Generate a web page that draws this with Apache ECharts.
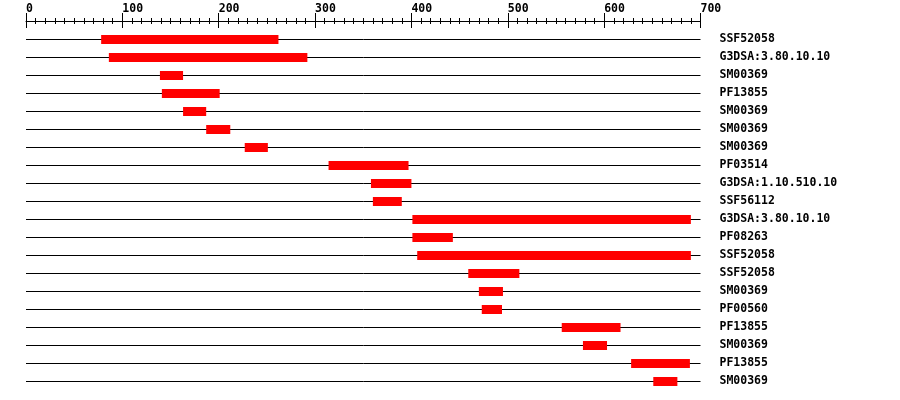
<!DOCTYPE html>
<html>
<head>
<meta charset="utf-8">
<title>Domain map</title>
<script src="https://cdn.jsdelivr.net/npm/echarts@6/dist/echarts.min.js"></script>
<style>
	html, body { margin: 0; padding: 0; background: #fff; }
	#e_chart_1 { width: 900px; height: 400px; }
</style>
</head>
<body>
<div id="e_chart_1"></div>
<script>
//------------data

var domains = ['SSF52058', 'G3DSA:3.80.10.10', 'SM00369', 'PF13855', 'SM00369', 'SM00369', 'SM00369',
	'PF03514', 'G3DSA:1.10.510.10', 'SSF56112', 'G3DSA:3.80.10.10', 'PF08263', 'SSF52058', 'SSF52058',
	'SM00369', 'PF00560', 'PF13855', 'SM00369', 'PF13855', 'SM00369'];
var starts = [78, 86, 139, 141, 163, 187, 227, 314, 358, 360, 401, 401, 406, 459, 470, 473, 556, 578, 628, 651];
var ends = [262, 292, 163, 201, 187, 212, 251, 397, 400, 390, 690, 443, 690, 512, 495, 494, 617, 603, 689, 676];
var seqMin = 0;
var seqMax = 700;
var tickStep = 100;

(function () {

	'use strict';

	var font = "'DejaVu Sans Mono', monospace";
	var eChart_1 = echarts.init(document.getElementById('e_chart_1'));

	var rows = domains.map(function (d, i) {
		return [i, starts[i], ends[i]];
	});

	var option = {
		animation: false,
		grid: {
			left: 26,
			right: 199.5,
			top: 39,
			bottom: 19
		},
		xAxis: [
			{
				type: 'value',
				position: 'top',
				offset: 18,
				min: seqMin,
				max: seqMax,
				interval: tickStep,
				axisLine: { show: true, lineStyle: { color: '#000', width: 1 } },
				axisTick: { show: true, length: 8, lineStyle: { color: '#000' } },
				minorTick: { show: true, splitNumber: 10, length: 3, lineStyle: { color: '#000' } },
				axisLabel: {
					align: 'left',
					margin: 6,
					color: '#000',
					fontFamily: font,
					fontWeight: 'bold',
					fontSize: 11.5
				},
				splitLine: { show: false }
			},
			{
				type: 'value',
				position: 'top',
				offset: 18,
				min: seqMin,
				max: seqMax,
				interval: tickStep,
				axisLine: { show: false },
				axisTick: { show: true, inside: true, length: 7, lineStyle: { color: '#000' } },
				minorTick: { show: true, splitNumber: 10, length: 3, lineStyle: { color: '#000' } },
				axisLabel: { show: false },
				splitLine: { show: false }
			}
		],
		yAxis: {
			type: 'category',
			data: domains,
			inverse: true,
			position: 'right',
			boundaryGap: false,
			axisLine: { show: false },
			axisTick: { show: false },
			axisLabel: {
				align: 'left',
				margin: 19,
				color: '#000',
				fontFamily: font,
				fontWeight: 'bold',
				fontSize: 11.5
			},
			splitLine: { show: true, lineStyle: { color: '#000', width: 1 } }
		},
		series: [
			{
				type: 'custom',
				xAxisIndex: 0,
				encode: { x: [1, 2], y: 0 },
				data: rows,
				renderItem: function (params, api) {
					var row = api.value(0);
					var p0 = api.coord([api.value(1), row]);
					var p1 = api.coord([api.value(2), row]);
					return {
						type: 'rect',
						shape: { x: p0[0], y: p0[1] - 4, width: p1[0] - p0[0], height: 9 },
						style: { fill: '#ff0000' }
					};
				}
			}
		]
	};

	eChart_1.setOption(option);
	eChart_1.resize();

})();
</script>
</body>
</html>
